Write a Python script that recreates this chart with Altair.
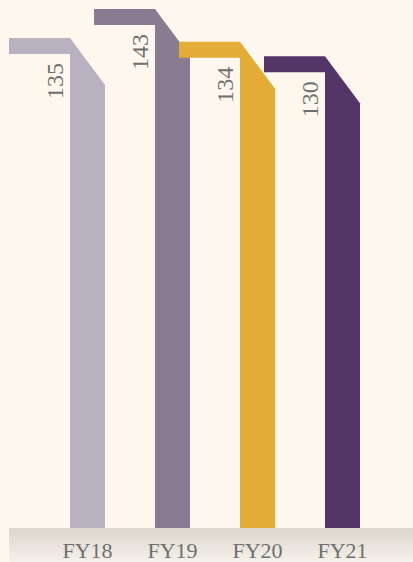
import altair as alt
import pandas as pd

categories = ["FY18", "FY19", "FY20", "FY21"]
values = [135, 143, 134, 130]
colors = ["#b8b1c0", "#8a7c90", "#e2ac36", "#533567"]

W, H = 413, 562
PXU = 519 / 143          # pixels per value unit
STEP = 85.0              # pixels per category
X0 = 87.5                # pixel centre of first category
BASE = 528               # pixel y of zero

def px_x(p):             # pixel offset -> index units
    return p / STEP

def px_y(p):             # pixel offset -> value units
    return p / PXU

half = px_x(17.5)
flag_len = px_x(61)
flag_th = px_y(16)
drop = px_y(47)

xdom = [-X0 / STEP, (W - X0) / STEP]
ydom = [-(H - BASE) / PXU, BASE / PXU]

idx = list(range(len(categories)))
flags = pd.DataFrame({
    "cat": categories,
    "x": [i - half - flag_len for i in idx],
    "x2": [i - half for i in idx],
    "y": values,
    "y2": [v - flag_th for v in values],
})
bars = pd.DataFrame({
    "cat": categories,
    "x": [i - half for i in idx],
    "x2": [i + half for i in idx],
    "y": [v - drop for v in values],
    "y2": [0] * len(values),
})
labels = pd.DataFrame({
    "cat": categories,
    "x": [i - half - px_x(7) for i in idx],
    "y": [v - flag_th - px_y(9) for v in values],
    "txt": [str(v) for v in values],
})
cats = pd.DataFrame({"cat": categories, "x": idx, "y": [-px_y(30)] * 4})
strip = pd.DataFrame({"x": [-half - flag_len], "x2": [xdom[1]], "y": [ydom[0]], "y2": [0]})

xs = alt.Scale(domain=xdom, nice=False, zero=False)
ys = alt.Scale(domain=ydom, nice=False, zero=False)
cs = alt.Scale(domain=categories, range=colors)

strip_l = alt.Chart(strip).mark_rect(
    fill=alt.Gradient(gradient="linear",
                      stops=[alt.GradientStop(color="#dbd5cc", offset=0),
                             alt.GradientStop(color="#f5f1eb", offset=1)],
                      x1=0, x2=0, y1=0, y2=1)
).encode(
    x=alt.X("x:Q", scale=xs, axis=None), x2="x2",
    y=alt.Y("y:Q", scale=ys, axis=None), y2="y2",
)

layers = [strip_l]
for i, c, v, col in zip(idx, categories, values, colors):
    wedge = pd.DataFrame({
        "x": [i - half, i + half],
        "top": [v, v - drop],
        "bot": [v - drop - 1, v - drop - 1],
    })
    layers.append(
        alt.Chart(wedge).mark_area(orient="vertical", color=col).encode(
            x=alt.X("x:Q", scale=xs, axis=None),
            y=alt.Y("top:Q", scale=ys, axis=None),
            y2="bot:Q",
        )
    )

bar_l = alt.Chart(bars).mark_rect().encode(
    x=alt.X("x:Q", scale=xs, axis=None), x2="x2",
    y=alt.Y("y:Q", scale=ys, axis=None), y2="y2",
    color=alt.Color("cat:N", scale=cs, legend=None),
)

flag_l = alt.Chart(flags).mark_rect().encode(
    x=alt.X("x:Q", scale=xs, axis=None), x2="x2",
    y=alt.Y("y:Q", scale=ys, axis=None), y2="y2",
    color=alt.Color("cat:N", scale=cs, legend=None),
)

num_l = alt.Chart(labels).mark_text(
    angle=270, align="right", baseline="alphabetic",
    font="Liberation Serif", fontSize=24, color="#6f6f6f"
).encode(
    x=alt.X("x:Q", scale=xs, axis=None),
    y=alt.Y("y:Q", scale=ys, axis=None),
    text="txt:N",
)

cat_l = alt.Chart(cats).mark_text(
    align="center", baseline="alphabetic",
    font="Liberation Serif", fontSize=22, color="#6f6f6f"
).encode(
    x=alt.X("x:Q", scale=xs, axis=None),
    y=alt.Y("y:Q", scale=ys, axis=None),
    text="cat:N",
)

chart = alt.layer(*layers, bar_l, flag_l, num_l, cat_l).properties(
    width=W, height=H, padding=0, autosize=alt.AutoSizeParams(type="none"),
    background="#fef7ed",
).configure_view(stroke=None)

chart.save("out.html", embed_options={"renderer": "svg", "actions": False})
